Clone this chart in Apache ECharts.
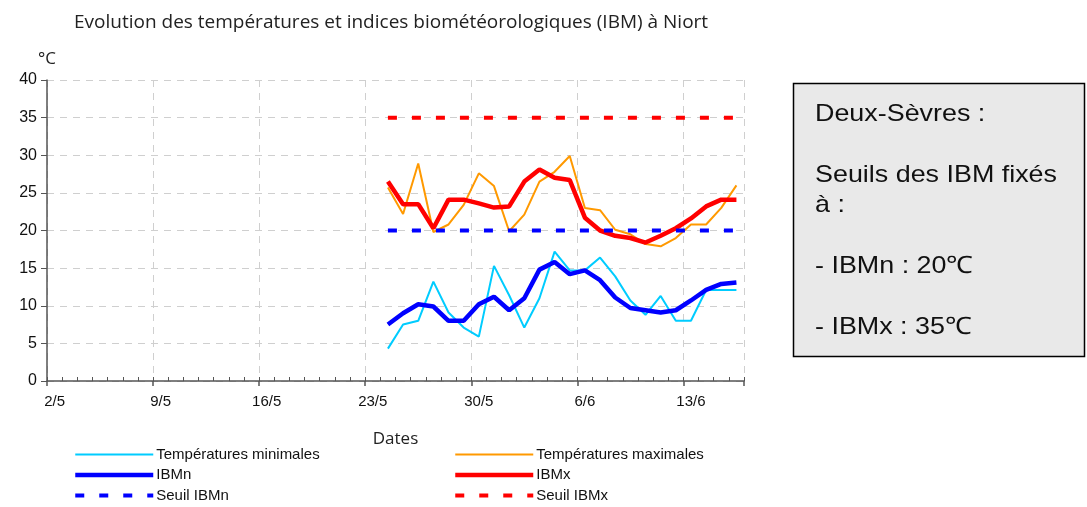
<!DOCTYPE html>
<html>
<head>
<meta charset="utf-8">
<script src="https://cdn.jsdelivr.net/npm/echarts@6/dist/echarts.min.js"></script>
<style>
  html, body { margin: 0; padding: 0; background: #fff; }
  #chart { width: 1087px; height: 507px; }
</style>
</head>
<body>
<div id="chart"></div>
<script>
// jours du 2/5 au 16/6
var categories = ['2/5','3/5','4/5','5/5','6/5','7/5','8/5','9/5','10/5','11/5','12/5','13/5','14/5','15/5',
  '16/5','17/5','18/5','19/5','20/5','21/5','22/5','23/5','24/5','25/5','26/5','27/5','28/5','29/5',
  '30/5','31/5','1/6','2/6','3/6','4/6','5/6','6/6','7/6','8/6','9/6','10/6','11/6','12/6','13/6',
  '14/6','15/6','16/6'];
// mesures disponibles à partir du 24/5
var dataDates = categories.slice(categories.indexOf('24/5'));
var tmin = [4.3, 7.5, 8.0, 13.2, 9.1, 7.1, 5.9, 15.3, 11.4, 7.1, 11.0, 17.2, 14.7, 14.7, 16.4, 13.9,
  10.7, 8.8, 11.3, 8.0, 8.0, 12.1, 12.1, 12.1];
var tmax = [25.7, 22.2, 28.9, 19.8, 20.8, 23.4, 27.6, 25.9, 19.9, 22.1, 26.5, 27.8, 29.9, 23.0, 22.7, 20.1,
  19.5, 18.2, 17.9, 19.0, 20.8, 20.8, 23.0, 26.0];
var ibmn = [7.5, 9.0, 10.2, 9.9, 8.0, 8.0, 10.2, 11.2, 9.4, 11.0, 14.8, 15.8, 14.2, 14.7, 13.4, 11.1,
  9.7, 9.4, 9.1, 9.4, 10.7, 12.1, 12.9, 13.1];
var ibmx = [26.5, 23.5, 23.5, 20.3, 24.1, 24.1, 23.6, 23.05, 23.2, 26.5, 28.1, 27.0, 26.7, 21.7, 20.0, 19.3,
  19.0, 18.4, 19.3, 20.3, 21.6, 23.2, 24.1, 24.1];
var seuilIBMn = 20;
var seuilIBMx = 35;
var yTicks = { min: 0, max: 40, interval: 5 };

function pairs(values) {
  return values.map(function (v, i) { return [dataDates[i], v]; });
}
function constant(v) {
  return dataDates.map(function (d) { return [d, v]; });
}

var chart = echarts.init(document.getElementById('chart'), null, { renderer: 'canvas' });
var font = 'Open Sans';
var arial = 'Liberation Sans';
var gridLine = { show: true, lineStyle: { color: '#cfcfcf', type: [7, 6], width: 1 } };
var thin = { width: 2 };
var thick = { width: 4.5 };
var dashed = { width: 4, type: [9, 15], cap: 'butt' };
var legendBase = {
  orient: 'vertical', top: 447, height: 70, padding: 0, itemWidth: 78, itemHeight: 14, itemGap: 5.5,
  itemStyle: { opacity: 0 },
  textStyle: { fontFamily: arial, fontSize: 15, color: '#111', padding: [0, 0, 0, -2] }
};

var option = {
  backgroundColor: '#ffffff',
  animation: false,
  textStyle: { fontFamily: font },
  title: {
    text: 'Evolution des températures et indices biométéorologiques (IBM) à Niort',
    left: 69, top: 8,
    textStyle: { fontFamily: font, fontSize: 19, fontWeight: 'normal', color: '#222' }
  },
  grid: { left: 47, right: 343, top: 80, bottom: 126, containLabel: false },
  legend: [
    Object.assign({}, legendBase, { left: 73, data: [
      { name: 'Températures minimales', lineStyle: thin },
      { name: 'IBMn', lineStyle: thick },
      { name: 'Seuil IBMn', lineStyle: dashed }
    ] }),
    Object.assign({}, legendBase, { left: 453, data: [
      { name: 'Températures maximales', lineStyle: thin },
      { name: 'IBMx', lineStyle: thick },
      { name: 'Seuil IBMx', lineStyle: dashed }
    ] })
  ],
  xAxis: [{
    type: 'category',
    data: categories,
    boundaryGap: true,
    name: 'Dates',
    nameLocation: 'middle',
    nameGap: 50,
    nameTextStyle: { fontFamily: font, fontSize: 17, color: '#222' },
    axisLine: { lineStyle: { color: '#555', width: 1.5 } },
    axisTick: { show: true, interval: 0, inside: true, length: 4, lineStyle: { color: '#555' } },
    axisLabel: { interval: 6, fontFamily: arial, fontSize: 15, color: '#111', margin: 13 },
    splitLine: gridLine
  }, {
    type: 'category',
    data: categories,
    boundaryGap: true,
    position: 'bottom',
    axisLine: { show: false },
    axisTick: { show: true, interval: 6, length: 5, lineStyle: { color: '#555', width: 1.5 } },
    axisLabel: { show: false },
    splitLine: { show: false }
  }],
  yAxis: {
    type: 'value',
    min: yTicks.min, max: yTicks.max, interval: yTicks.interval,
    name: '°C',
    nameGap: 12,
    nameTextStyle: { fontFamily: font, fontSize: 17, color: '#222', align: 'right', padding: [0, -9, 0, 0] },
    axisLine: { show: true, lineStyle: { color: '#555', width: 1.5 } },
    axisTick: { show: true, length: 6, lineStyle: { color: '#555' } },
    axisLabel: { fontFamily: arial, fontSize: 16, color: '#111', margin: 10 },
    splitLine: gridLine
  },
  series: [{
    name: 'Températures minimales', type: 'line', data: pairs(tmin),
    symbol: 'none', color: '#00ccff', lineStyle: thin
  }, {
    name: 'Températures maximales', type: 'line', data: pairs(tmax),
    symbol: 'none', color: '#ff9900', lineStyle: thin
  }, {
    name: 'IBMn', type: 'line', data: pairs(ibmn),
    symbol: 'none', color: '#0000ff', lineStyle: thick
  }, {
    name: 'IBMx', type: 'line', data: pairs(ibmx),
    symbol: 'none', color: '#ff0000', lineStyle: thick
  }, {
    name: 'Seuil IBMn', type: 'line', data: constant(seuilIBMn),
    symbol: 'none', color: '#0000ff', lineStyle: dashed
  }, {
    name: 'Seuil IBMx', type: 'line', data: constant(seuilIBMx),
    symbol: 'none', color: '#ff0000', lineStyle: dashed
  }],
  graphic: [{
    type: 'rect',
    shape: { x: 793.5, y: 83.5, width: 291, height: 273 },
    style: { fill: '#e9e9e9', stroke: '#000', lineWidth: 1.5 }
  }, {
    type: 'text',
    x: 815, y: 99, scaleX: 1.12,
    style: {
      text: 'Deux-Sèvres :\n\nSeuils des IBM fixés\nà :\n\n- IBMn : 20℃\n\n- IBMx : 35℃',
      font: '24px "Liberation Sans", Arial, sans-serif',
      lineHeight: 30.5,
      verticalAlign: 'top',
      fill: '#111'
    }
  }]
};
chart.setOption(option);
</script>
</body>
</html>
